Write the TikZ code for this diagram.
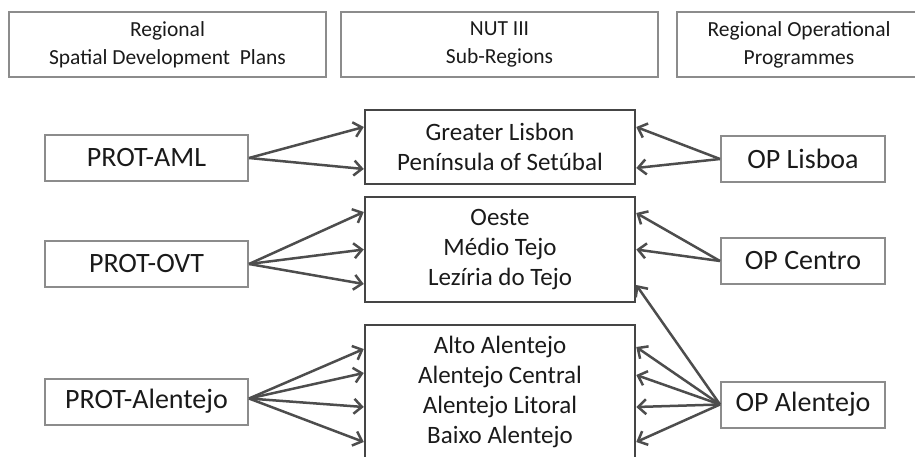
\documentclass[tikz,border=0pt]{standalone}
\usepackage{fontspec}
\setmainfont{Carlito}
\usetikzlibrary{arrows.meta}
\definecolor{lightframe}{HTML}{8C8C8C}
\definecolor{darkframe}{HTML}{454545}
\definecolor{arrowcol}{HTML}{4D4D4D}
\definecolor{txt}{HTML}{1A1A1A}
\tikzset{
  headbox/.style={draw=lightframe, line width=2pt, inner sep=0pt, align=center, text=txt,
    minimum height=65pt, font=\fontsize{21.5}{28}\selectfont},
  sidebox/.style={draw=lightframe, line width=2pt, inner sep=0pt, align=center, text=txt,
    minimum height=46pt, font=\fontsize{28}{32}\selectfont},
  regbox/.style={draw=darkframe, line width=2.5pt, inner sep=0pt, align=center, text=txt,
    minimum width=270pt, font=\fontsize{25}{30}\selectfont},
  link/.style={draw=arrowcol, line width=2.5pt, -{Straight Barb[length=8pt,width=15pt]}}
}
\begin{document}
\begin{tikzpicture}[x=1pt,y=-1pt]
\useasboundingbox (0,0) rectangle (915,457);
% headers
\node[headbox, minimum width=317pt] (h1) at (167.5,44.5) {Regional\\Spatial Development\ \ Plans};
\node[headbox, minimum width=317pt] (h2) at (499.5,44.5) {NUT III\\Sub-Regions};
\node[headbox, minimum width=244pt] (h3) at (799,44.5) {Regional Operational\\Programmes};
% left
\node[sidebox, minimum width=203pt] (aml) at (146.5,158) {PROT-AML};
\node[sidebox, minimum width=203pt] (ovt) at (146.5,264) {PROT-OVT};
\node[sidebox, minimum width=203pt] (pal) at (146.5,401.5) {PROT-Alentejo};
% centre
\node[regbox, minimum height=74pt] (ra) at (500,147) {Greater Lisbon\\Península of Setúbal};
\node[regbox, minimum height=105pt] (rb) at (500,249.5) {Oeste\\Médio Tejo\\Lezíria do Tejo};
\node[regbox, minimum height=134pt] (rc) at (500,392) {Alto Alentejo\\Alentejo Central\\Alentejo Litoral\\Baixo Alentejo};
% right
\node[sidebox, minimum width=164pt] (opl) at (803,159) {OP Lisboa};
\node[sidebox, minimum width=164pt] (opc) at (803,261) {OP Centro};
\node[sidebox, minimum width=164pt] (opa) at (803,404.5) {OP Alentejo};
% left arrows
\draw[link] (aml.east) -- ([yshift=20pt]ra.west);
\draw[link] (aml.east) -- ([yshift=-22pt]ra.west);
\draw[link] (ovt.east) -- ([yshift=37.5pt]rb.west);
\draw[link] (ovt.east) -- (rb.west);
\draw[link] (ovt.east) -- ([yshift=-34.5pt]rb.west);
\draw[link] ([yshift=3pt]pal.east) -- ([yshift=43pt]rc.west);
\draw[link] ([yshift=3pt]pal.east) -- ([yshift=19pt]rc.west);
\draw[link] ([yshift=3pt]pal.east) -- ([yshift=-15pt]rc.west);
\draw[link] ([yshift=3pt]pal.east) -- ([yshift=-50pt]rc.west);
% right arrows
\draw[link] (opl.west) -- ([yshift=20pt]ra.east);
\draw[link] (opl.west) -- ([yshift=-21pt]ra.east);
\draw[link] (opc.west) -- ([yshift=36.5pt]rb.east);
\draw[link] (opc.west) -- (rb.east);
\draw[link] (opa.west) -- ([yshift=-35.5pt]rb.east);
\draw[link] (opa.west) -- ([yshift=45pt]rc.east);
\draw[link] (opa.west) -- ([yshift=17pt]rc.east);
\draw[link] (opa.west) -- ([yshift=-15pt]rc.east);
\draw[link] (opa.west) -- ([yshift=-50pt]rc.east);
\end{tikzpicture}
\end{document}
